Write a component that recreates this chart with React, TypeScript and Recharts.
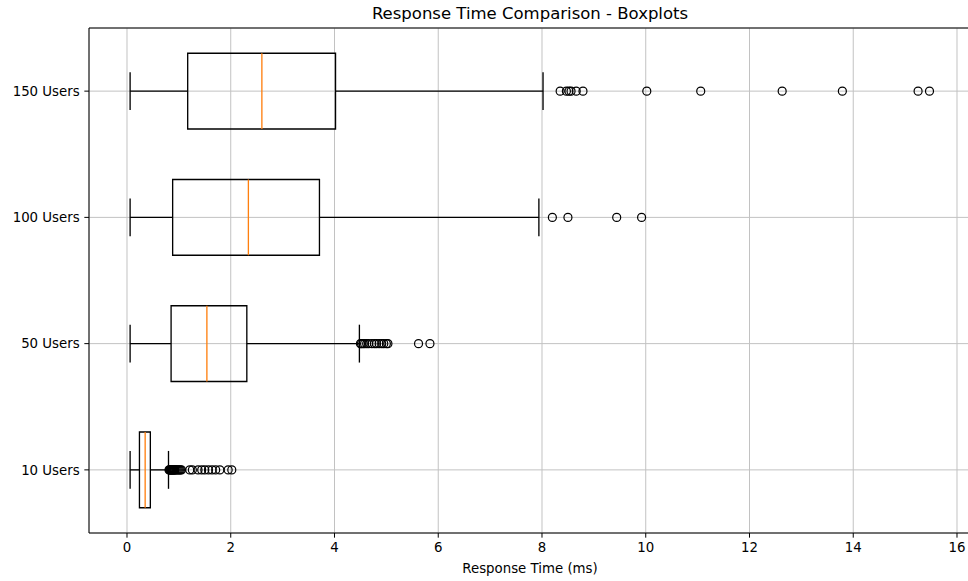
import React from "react";
import {
  ScatterChart,
  Scatter,
  XAxis,
  YAxis,
  CartesianGrid,
  ReferenceArea,
  ReferenceLine,
} from "recharts";

// boxplot stats, bottom to top
const categories = ["10 Users", "50 Users", "100 Users", "150 Users"];
const whiskerLow = [0.06, 0.06, 0.06, 0.06];
const q1 = [0.24, 0.85, 0.88, 1.17];
const medians = [0.35, 1.54, 2.34, 2.6];
const q3 = [0.45, 2.31, 3.71, 4.02];
const whiskerHigh = [0.8, 4.48, 7.94, 8.02];

const outliers10 = [
  0.81, 0.82, 0.83, 0.84, 0.85, 0.86, 0.87, 0.88, 0.89, 0.9, 0.91, 0.92, 0.93,
  0.95, 0.97, 0.99, 1.01, 1.03, 1.05, 1.21, 1.26, 1.37, 1.44, 1.5, 1.57, 1.64,
  1.71, 1.79, 1.95, 2.02,
];
const outliers50 = [
  4.5, 4.52, 4.55, 4.58, 4.62, 4.66, 4.72, 4.77, 4.81, 4.86, 4.91, 4.95, 5.0,
  5.03, 5.62, 5.84,
];
const outliers100 = [8.2, 8.5, 9.44, 9.92];
const outliers150 = [
  8.35, 8.47, 8.52, 8.56, 8.66, 8.79, 10.02, 11.06, 12.63, 13.79, 15.25, 15.47,
];

const xTicks = [0, 2, 4, 6, 8, 10, 12, 14, 16];
const yTicks = [1, 2, 3, 4];

const allOutliers = [outliers10, outliers50, outliers100, outliers150];
const flierData = allOutliers.flatMap((vals, i) =>
  vals.map((v) => ({ x: v, y: i + 1 }))
);

const FONT = "'DejaVu Sans', sans-serif";
const HALF = 0.3; // half box height (category units)
const CAP = 0.15;

const Flier = (props: any) => (
  <circle cx={props.cx} cy={props.cy} r={4} fill="none" stroke="#000" strokeWidth={1.2} />
);

export default function App() {
  const tickStyle = { fill: "#000", fontSize: 13.33, fontFamily: FONT };
  return (
    <div style={{ position: "absolute", left: 0, top: 0, width: 968, height: 581, overflow: "hidden", background: "#fff" }}>
      <div
        style={{
          position: "absolute",
          left: 0,
          width: 1060,
          top: 5,
          textAlign: "center",
          fontFamily: FONT,
          fontSize: 16.5,
          color: "#000",
          lineHeight: "18px",
        }}
      >
        Response Time Comparison - Boxplots
      </div>
      <ScatterChart width={980} height={581} margin={{ top: 28, right: 9, bottom: 0, left: 0 }}>
        <CartesianGrid stroke="#c2c2c2" strokeWidth={1} />
        <XAxis
          type="number"
          dataKey="x"
          domain={[-0.7325, 16.27]}
          allowDataOverflow
          ticks={xTicks}
          height={48}
          tick={tickStyle}
          tickSize={4.67}
          tickMargin={4.5}
          stroke="#000"
          axisLine={{ stroke: "#000" }}
          tickLine={{ stroke: "#000" }}
          label={{ value: "Response Time (ms)", position: "insideBottom", offset: 8, style: { fill: "#000", fontSize: 13.33, fontFamily: FONT } }}
        />
        <YAxis
          type="number"
          dataKey="y"
          domain={[0.5, 4.5]}
          allowDataOverflow
          ticks={yTicks}
          width={89}
          tick={tickStyle}
          tickSize={4.67}
          tickMargin={4.67}
          tickFormatter={(v: number) => categories[v - 1]}
          axisLine={{ stroke: "#000" }}
          tickLine={{ stroke: "#000" }}
        />
        <ReferenceLine y={4.5} stroke="#000" strokeWidth={1} ifOverflow="visible" />
        {categories.map((c, i) => {
          const y = i + 1;
          return (
            <React.Fragment key={c}>
              <ReferenceLine
                segment={[{ x: whiskerLow[i], y }, { x: q1[i], y }]}
                stroke="#000"
                strokeWidth={1.33}
              />
              <ReferenceLine
                segment={[{ x: q3[i], y }, { x: whiskerHigh[i], y }]}
                stroke="#000"
                strokeWidth={1.33}
              />
              <ReferenceLine
                segment={[{ x: whiskerLow[i], y: y - CAP }, { x: whiskerLow[i], y: y + CAP }]}
                stroke="#000"
                strokeWidth={1.33}
              />
              <ReferenceLine
                segment={[{ x: whiskerHigh[i], y: y - CAP }, { x: whiskerHigh[i], y: y + CAP }]}
                stroke="#000"
                strokeWidth={1.33}
              />
              <ReferenceArea
                x1={q1[i]}
                x2={q3[i]}
                y1={y - HALF}
                y2={y + HALF}
                fill="none"
                fillOpacity={0}
                stroke="#000"
                strokeWidth={1.33}
              />
              <ReferenceLine
                segment={[{ x: medians[i], y: y - HALF }, { x: medians[i], y: y + HALF }]}
                stroke="#ff7f0e"
                strokeWidth={1.33}
              />
            </React.Fragment>
          );
        })}
        <Scatter data={flierData} shape={<Flier />} isAnimationActive={false} />
      </ScatterChart>
    </div>
  );
}
